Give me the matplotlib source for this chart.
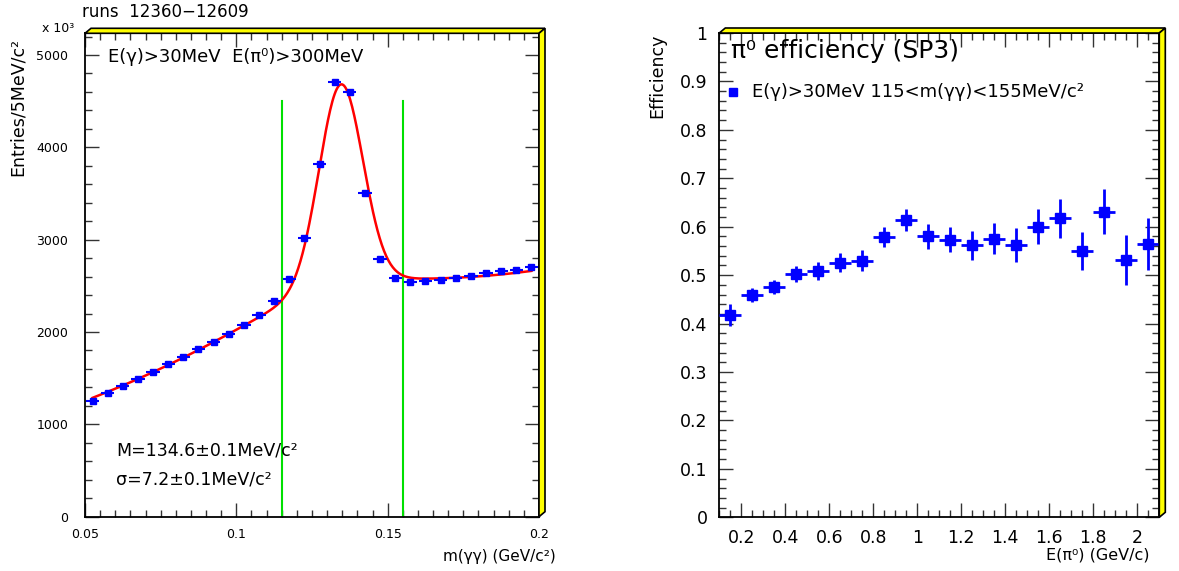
import numpy as np
import matplotlib
matplotlib.use("Agg")
import matplotlib.pyplot as plt
from matplotlib.patches import Polygon
from matplotlib.ticker import MultipleLocator, FixedLocator

plt.rcParams['font.family'] = ['DejaVu Sans']

# left panel: m(gamma gamma) spectrum, 5 MeV bins (values in units of 10^3)
mass_centers = np.arange(0.0525, 0.2, 0.005)
entries = [1257, 1343, 1416, 1495, 1571, 1651, 1730, 1813, 1889, 1979,
           2073, 2182, 2337, 2579, 3023, 3818, 4706, 4594, 3507, 2792,
           2590, 2546, 2557, 2568, 2590, 2611, 2637, 2659, 2676, 2702]
fit_mean = 0.1346
fit_sigma = 0.0072
window = [0.115, 0.155]

# right panel: efficiency vs E(pi0)
e_centers = [0.15, 0.25, 0.35, 0.45, 0.55, 0.65, 0.75, 0.85, 0.95, 1.05,
             1.15, 1.25, 1.35, 1.45, 1.55, 1.65, 1.75, 1.85, 1.95, 2.05]
eff = [0.418, 0.459, 0.476, 0.502, 0.509, 0.526, 0.530, 0.579, 0.614, 0.580,
       0.573, 0.562, 0.575, 0.562, 0.600, 0.617, 0.550, 0.631, 0.531, 0.564]
eff_err = [0.023, 0.015, 0.015, 0.016, 0.018, 0.019, 0.021, 0.021, 0.023, 0.026,
           0.026, 0.030, 0.032, 0.035, 0.036, 0.041, 0.040, 0.046, 0.052, 0.054]

W, H = 1179, 571
fig = plt.figure(figsize=(W / 100, H / 100), dpi=100)
ax1 = fig.add_axes([85 / W, 1 - 516.7 / H, 454 / W, 483.4 / H])
ax2 = fig.add_axes([719.3 / W, 1 - 517.3 / H, 440 / W, 484.3 / H])

blue = (0, 0, 1)


def root_frame(ax, wpx, hpx):
    dx, dy = 6 / wpx, 5 / hpx
    top = Polygon([(0, 1), (dx, 1 + dy), (1 + dx, 1 + dy), (1, 1)],
                  closed=True, transform=ax.transAxes, clip_on=False,
                  facecolor='yellow', edgecolor='black', lw=1.2, zorder=5)
    right = Polygon([(1, 0), (1 + dx, dy), (1 + dx, 1 + dy), (1, 1)],
                    closed=True, transform=ax.transAxes, clip_on=False,
                    facecolor='yellow', edgecolor='black', lw=1.2, zorder=5)
    ax.add_patch(top)
    ax.add_patch(right)
    for s in ax.spines.values():
        s.set_linewidth(1.3)
    ax.tick_params(which='both', direction='in', top=True, right=True, width=1, color='#333333')
    ax.tick_params(which='major', length=10)
    ax.tick_params(which='minor', length=5)


# ---- left: gaussian + (quadratic + smooth slope change) background,
#      weighted least squares fit to the histogram
x = np.array(mass_centers)
y = np.array(entries, dtype=float)


def design(xx):
    u = (xx - 0.125) / 0.075
    w = 0.008
    knee = w * np.logaddexp(0, (0.13 - xx) / w) / 0.075
    cols = [np.exp(-0.5 * ((xx - fit_mean) / fit_sigma) ** 2),
            np.ones_like(xx), u, u ** 2, knee]
    return np.column_stack(cols)


wts = 1 / np.sqrt(y)
coef, *_ = np.linalg.lstsq(design(x) * wts[:, None], y * wts, rcond=None)
xf = np.linspace(x[0], x[-1], 400)
yf = design(xf) @ coef

ax1.plot(xf, yf, color='red', lw=1.8, zorder=3)
ax1.errorbar(mass_centers, entries, xerr=0.0022, fmt='s', color=blue,
             ms=4.5, elinewidth=1.5, capsize=0, zorder=4)
for xv in window:
    ax1.plot([xv, xv], [0, 4500], color='#00e000', lw=1.5, zorder=2)

ax1.set_xlim(0.05, 0.2)
ax1.set_ylim(0, 5235)
ax1.xaxis.set_major_locator(FixedLocator([0.05, 0.1, 0.15, 0.2]))
ax1.set_xticklabels(['0.05', '0.1', '0.15', '0.2'])
ax1.xaxis.set_minor_locator(MultipleLocator(0.005))
ax1.yaxis.set_major_locator(MultipleLocator(1000))
ax1.yaxis.set_minor_locator(MultipleLocator(200))
ax1.tick_params(labelsize=9, pad=8)
ax1.tick_params(axis='y', pad=12)
root_frame(ax1, 454, 483.4)

ax1.text(0.0576, 4975, 'E(\u03b3)>30MeV  E(\u03c0\u2070)>300MeV', fontsize=13, va='center')
ax1.text(0.0602, 712, 'M=134.6\u00b10.1MeV/c\u00b2', fontsize=12.5, va='center')
ax1.text(0.0602, 398, '\u03c3=7.2\u00b10.1MeV/c\u00b2', fontsize=12.5, va='center')

fig.text(18 / W, 1 - 38 / H, 'Entries/5MeV/c\u00b2', rotation=90, ha='center', va='top', fontsize=12.5)
fig.text(42 / W, 1 - 28 / H, 'x 10\u00b3', fontsize=9, va='center')
fig.text(82 / W, 1 - 12 / H, 'runs  12360\u221212609', fontsize=12, va='center')
fig.text(556 / W, 1 - 557 / H, 'm(\u03b3\u03b3) (GeV/c\u00b2)', fontsize=11, ha='right', va='center')

# ---- right: efficiency
ax2.errorbar(e_centers, eff, xerr=0.05, yerr=eff_err, fmt='s', color=blue,
             ms=7, elinewidth=2, capsize=0, zorder=4)
ax2.set_xlim(0.1, 2.1)
ax2.set_ylim(0, 1)
ax2.xaxis.set_major_locator(MultipleLocator(0.2))
ax2.xaxis.set_minor_locator(MultipleLocator(0.05))
ax2.yaxis.set_major_locator(MultipleLocator(0.1))
ax2.yaxis.set_minor_locator(MultipleLocator(0.02))
xt = np.arange(0.2, 2.01, 0.2)
ax2.set_xticks(xt)
ax2.set_xticklabels(['%g' % round(v, 1) for v in xt])
yt = np.arange(0, 1.01, 0.1)
ax2.set_yticks(yt)
ax2.set_yticklabels(['%g' % round(v, 1) for v in yt])
ax2.tick_params(labelsize=12.5, pad=8.5)
root_frame(ax2, 440, 484.3)

ax2.text(0.026, 0.963, '\u03c0\u2070 efficiency (SP3)', transform=ax2.transAxes,
         fontsize=18, va='center')
ax2.plot([0.031], [0.878], 's', color=blue, ms=6, transform=ax2.transAxes)
ax2.text(0.075, 0.878, 'E(\u03b3)>30MeV 115<m(\u03b3\u03b3)<155MeV/c\u00b2',
         transform=ax2.transAxes, fontsize=13, va='center')

fig.text(657 / W, 1 - 34 / H, 'Efficiency', rotation=90, ha='center', va='top', fontsize=12.5)
fig.text(1150 / W, 1 - 555 / H, 'E(\u03c0\u2070) (GeV/c)', fontsize=11.5, ha='right', va='center')

fig.savefig('out.png', dpi=100)
